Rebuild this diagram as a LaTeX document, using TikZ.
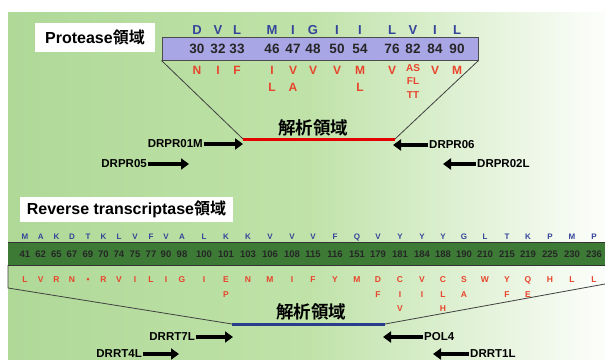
\documentclass[tikz,border=0pt]{standalone}
\usepackage{fontspec}
\setmainfont{Liberation Sans}
\newfontfamily\cjk{Noto Sans CJK JP}[BoldFont={Noto Sans CJK JP Bold}]
\usetikzlibrary{arrows.meta}
\definecolor{bgG}{HTML}{A0D088}
\definecolor{bgM}{HTML}{BFE2A8}
\definecolor{lav}{HTML}{A9A6E6}
\definecolor{aaBlue}{HTML}{34449A}
\definecolor{aaRed}{HTML}{E8442C}
\definecolor{barG}{HTML}{3C7A36}
\definecolor{rlBlue}{HTML}{2A3C8C}
\pgfdeclarehorizontalshading{bgshade}{100bp}{color(0bp)=(bgG); color(50bp)=(bgM); color(74bp)=(white!92!bgM); color(85bp)=(white); color(100bp)=(white)}
\tikzset{
  lbl/.style={fill=white, inner sep=0pt, font=\fontsize{16}{18}\selectfont\bfseries},
  pnum/.style={font=\fontsize{13.5}{14}\selectfont\bfseries, text=black!85, inner sep=0pt},
  pwt/.style={font=\fontsize{13}{14}\selectfont\bfseries, text=aaBlue, inner sep=0pt},
  pmut/.style={font=\fontsize{12}{12}\selectfont\bfseries, text=aaRed, inner sep=0pt},
  pmuts/.style={font=\fontsize{10}{10}\selectfont\bfseries, text=aaRed, inner sep=0pt},
  rnum/.style={font=\fontsize{9.5}{10}\selectfont\bfseries, text=black!85, inner sep=0pt},
  rwt/.style={font=\fontsize{8}{9}\selectfont\bfseries, text=aaBlue, inner sep=0pt},
  rmut/.style={font=\fontsize{8.5}{9}\selectfont\bfseries, text=aaRed, inner sep=0pt},
  trap/.style={draw=black!75, line width=0.8pt},
  region/.style={font=\fontsize{17.5}{18}\selectfont\cjk\bfseries, inner sep=0pt},
  primer/.style={font=\fontsize{11.5}{12}\selectfont\bfseries, inner sep=1pt},
  parrow/.style={line width=3.6pt, -{Triangle[length=8pt,width=11pt]}}
}
\begin{document}
\begin{tikzpicture}[x=1pt,y=-1pt]
\useasboundingbox (0,0) rectangle (605,359);
\fill[white] (0,0) rectangle (605,359);
\shade[shading=bgshade] (8,12) rectangle (605,359);

% ---------- Protease ----------
\node[lbl, minimum width=120pt, minimum height=29pt] (plabel) at (95,37.5) {Protease{\cjk\bfseries 領域}};
\node[draw=black!70, line width=1pt, fill=lav, minimum width=316pt, minimum height=23pt, inner sep=0pt] (pbox) at (320,48.5) {};
\foreach \n/\x/\w in {30/197/D,32/218/V,33/237/L,46/272/M,47/293/I,48/313/G,50/337/I,54/360/I,76/392/L,82/413/V,84/435/I,90/457/L}{
  \node[pnum] (pn\n) at (\x,48.5) {\n};
  \node[pwt] (pw\n) at (\x,30) {\w};
}
\foreach \n/\x/\m in {30/197/N,32/218/I,33/237/F,46/272/I,47/293/V,48/313/V,50/337/V,54/360/M,76/392/V,84/435/V,90/457/M}{
  \node[pmut] (pm\n) at (\x,70) {\m};
}
\node[pmut] (pm46b) at (272,87) {L};
\node[pmut] (pm47b) at (293,87) {A};
\node[pmut] (pm54b) at (360,87) {L};
\node[pmuts] (pm82a) at (413,68) {AS};
\node[pmuts] (pm82b) at (413,81) {FL};
\node[pmuts] (pm82c) at (413,95) {TT};

\coordinate (prL) at (243,139);
\coordinate (prR) at (395,139);
\draw[trap] (pbox.south west) -- (prL);
\draw[trap] (prR) -- (pbox.south east);
\draw[draw=red!90!black, line width=3pt] (prL) -- (prR);
\node[region] (preg) at (313,128) {解析領域};

\node[primer, anchor=east] (p01m) at (204,144) {DRPR01M};
\coordinate (p01mT) at (243,144);
\draw[parrow] (p01m.east) -- (p01mT);
\node[primer, anchor=east] (p05) at (148,164) {DRPR05};
\coordinate (p05T) at (189,164);
\draw[parrow] (p05.east) -- (p05T);
\node[primer, anchor=west] (p06) at (428,145) {DRPR06};
\coordinate (p06T) at (393,145);
\draw[parrow] (p06.west) -- (p06T);
\node[primer, anchor=west] (p02l) at (476,164) {DRPR02L};
\coordinate (p02lT) at (443,164);
\draw[parrow] (p02l.west) -- (p02lT);

% ---------- Reverse transcriptase ----------
\node[lbl, minimum width=213pt, minimum height=25pt] (rlabel) at (126.5,209.5) {Reverse transcriptase{\cjk\bfseries 領域}};
\node[fill=barG, minimum width=610pt, minimum height=22pt, inner sep=0pt, anchor=west] (bar) at (8,254) {};
\draw[black!80, line width=1.2pt] (bar.north west) -- (bar.north east);
\draw[black!80, line width=1.2pt] (bar.south west) -- (bar.south east);

\foreach \n/\x/\w/\m in {41/25/M/L,62/40.7/A/V,65/56.4/K/R,67/72/D/N,69/88/T/{\textbullet},70/103.5/K/R,74/119/L/V,75/135/V/I,77/151/F/L,90/166/V/I,98/182/A/G,100/204/L/I,101/226/K/E,103/248/K/N,106/270/V/M,108/292/V/I,115/313/V/F,116/335/F/Y,151/357/Q/M,179/378/V/D,181/400/Y/C,184/422/Y/V,188/443/Y/C,190/464/G/S,210/485/L/W,215/507/T/Y,219/528/K/Q,225/550/P/H,230/572/M/L,236/594/P/L}{
  \node[rnum] (rn\n) at (\x,254) {\n};
  \node[rwt] (rw\n) at (\x,237) {\w};
  \node[rmut] (rm\n) at (\x,280) {\m};
}
\foreach \n/\x/\m in {101/226/P,179/378/F,181/400/I,184/422/I,188/443/L,190/464/A,215/507/F,219/528/E}{
  \node[rmut] (rmb\n) at (\x,295) {\m};
}
\node[rmut] (rmc181) at (400,309) {V};
\node[rmut] (rmc188) at (443,309) {H};

\coordinate (tl) at (8,288);
\coordinate (rlL) at (232,324);
\coordinate (rlR) at (385,324);
\coordinate (tr) at (605,284);
\draw[trap] (bar.south west) -- (tl) -- (rlL);
\draw[trap] (rlR) -- (tr);
\draw[draw=rlBlue, line width=3pt] (rlL) -- (rlR);
\node[region] (rreg) at (311,312) {解析領域};

\node[primer, anchor=east] (r7l) at (196,337) {DRRT7L};
\coordinate (r7lT) at (233,337);
\draw[parrow] (r7l.east) -- (r7lT);
\node[primer, anchor=east] (r4l) at (143,354) {DRRT4L};
\coordinate (r4lT) at (179,354);
\draw[parrow] (r4l.east) -- (r4lT);
\node[primer, anchor=west] (pol4) at (423,337) {POL4};
\coordinate (pol4T) at (383,337);
\draw[parrow] (pol4.west) -- (pol4T);
\node[primer, anchor=west] (r1l) at (469,354) {DRRT1L};
\coordinate (r1lT) at (433,354);
\draw[parrow] (r1l.west) -- (r1lT);
\end{tikzpicture}
\end{document}
